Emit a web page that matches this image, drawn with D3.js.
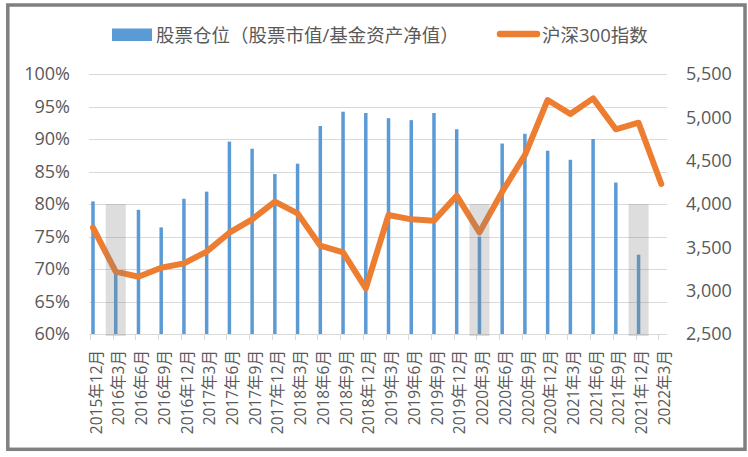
<!DOCTYPE html>
<html>
<head>
<meta charset="utf-8">
<script src="https://cdn.jsdelivr.net/npm/d3@7"></script>
<style>
  html, body { margin: 0; padding: 0; background: #fff; }
  svg { display: block; }
  text { font-family: "Open Sans", "Noto Sans CJK SC", sans-serif; fill: #595959; }
</style>
</head>
<body>
<svg id="chart" width="748" height="457"></svg>
<script>
// ---- data ----
const categories = ["2015年12月","2016年3月","2016年6月","2016年9月","2016年12月",
  "2017年3月","2017年6月","2017年9月","2017年12月",
  "2018年3月","2018年6月","2018年9月","2018年12月",
  "2019年3月","2019年6月","2019年9月","2019年12月",
  "2020年3月","2020年6月","2020年9月","2020年12月",
  "2021年3月","2021年6月","2021年9月","2021年12月","2022年3月"];
const stockPosition = [80.4, 70.0, 79.1, 76.4, 80.8, 81.9, 89.6, 88.5, 84.6,
  86.2, 92.0, 94.2, 94.0, 93.2, 92.9, 94.0, 91.5, 75.0, 89.3, 90.8, 88.2,
  86.8, 90.0, 83.3, 72.2, null];
const hs300 = [3726, 3219, 3161, 3265, 3315, 3450, 3669, 3823, 4027, 3892,
  3519, 3442, 3027, 3873, 3823, 3808, 4096, 3673, 4142, 4565, 5200, 5038,
  5219, 4862, 4938, 4231];
const shadedPeriods = ["2016年3月", "2020年3月", "2021年12月"];
const shadedTop = 80;
const leftTicks = [60, 65, 70, 75, 80, 85, 90, 95, 100];
const rightTicks = [2500, 3000, 3500, 4000, 4500, 5000, 5500];
const seriesNames = ["股票仓位（股票市值/基金资产净值）", "沪深300指数"];

// ---- layout ----
(function () {
const svg = d3.select("#chart");
const plotTop = 74, plotBottom = 334, gridL = 89, gridR = 667;
const x = d3.scalePoint().domain(categories).range([90, 658.3]);
const markOff = 3;
const yL = d3.scaleLinear().domain([60, 100]).range([plotBottom, plotTop]);
const yR = d3.scaleLinear().domain([2500, 5500]).range([plotBottom, plotTop]);
const blue = "#5b9bd5", orange = "#ed7d31";

// border
svg.append("rect").attr("x", 7.8).attr("y", 5).attr("width", 737.2).attr("height", 444.3)
  .attr("fill", "none").attr("stroke", "#808080").attr("stroke-width", 3.5);

// gridlines
svg.append("g").selectAll("line").data(leftTicks).join("line")
  .attr("x1", gridL).attr("x2", gridR)
  .attr("y1", d => Math.round(yL(d)) + 0.5).attr("y2", d => Math.round(yL(d)) + 0.5)
  .attr("stroke", "#d9d9d9").attr("stroke-width", 1);

// x axis ticks
svg.append("g").selectAll("line").data(categories).join("line")
  .attr("x1", d => Math.round(x(d)) + 0.5).attr("x2", d => Math.round(x(d)) + 0.5)
  .attr("y1", plotBottom).attr("y2", plotBottom + 6)
  .attr("stroke", "#d9d9d9").attr("stroke-width", 1);

// bars
svg.append("g").selectAll("rect").data(categories.map((c, i) => ({c, v: stockPosition[i]})).filter(d => d.v != null))
  .join("rect")
  .attr("x", d => x(d.c) + markOff - 1.75).attr("width", 3.5)
  .attr("y", d => yL(d.v)).attr("height", d => yL(60) - yL(d.v))
  .attr("fill", blue);

// line
const line = d3.line().x((d, i) => x(categories[i]) + markOff).y(d => yR(d));
svg.append("path").datum(hs300).attr("d", line)
  .attr("fill", "none").attr("stroke", orange).attr("stroke-width", 6)
  .attr("stroke-linejoin", "round").attr("stroke-linecap", "round");

// shaded periods
svg.append("g").selectAll("rect").data(shadedPeriods).join("rect")
  .attr("x", d => x(d) + markOff - 10).attr("width", 20)
  .attr("y", yL(shadedTop)).attr("height", plotBottom + 2 - yL(shadedTop))
  .attr("fill", "rgba(128,128,128,0.27)");

// left axis labels
svg.append("g").selectAll("text").data(leftTicks).join("text")
  .attr("x", 70).attr("y", d => yL(d)).attr("dy", "0.36em")
  .attr("text-anchor", "end").style("font-size", "18px")
  .text(d => d + "%");

// right axis labels
const fmt = d3.format(",");
svg.append("g").selectAll("text").data(rightTicks).join("text")
  .attr("x", 686).attr("y", d => yR(d)).attr("dy", "0.36em")
  .attr("text-anchor", "start").style("font-size", "18px")
  .text(d => fmt(d));

// x labels
svg.append("g").selectAll("text").data(categories).join("text")
  .attr("transform", d => `translate(${x(d) + 6},350) rotate(-90)`)
  .attr("dy", "0.36em").attr("text-anchor", "end").style("font-size", "15.5px")
  .text(d => d);

// legend
const lg = svg.append("g");
lg.append("rect").attr("x", 112).attr("y", 28.5).attr("width", 40).attr("height", 12.5).attr("fill", blue);
lg.append("text").attr("x", 156).attr("y", 35).attr("dy", "0.36em").style("font-size", "18.5px").text(seriesNames[0]);
lg.append("line").attr("x1", 500).attr("x2", 537).attr("y1", 34).attr("y2", 34)
  .attr("stroke", orange).attr("stroke-width", 6.5).attr("stroke-linecap", "round");
lg.append("text").attr("x", 542).attr("y", 35).attr("dy", "0.36em").style("font-size", "18.5px").text(seriesNames[1]);
})();
</script>
</body>
</html>
